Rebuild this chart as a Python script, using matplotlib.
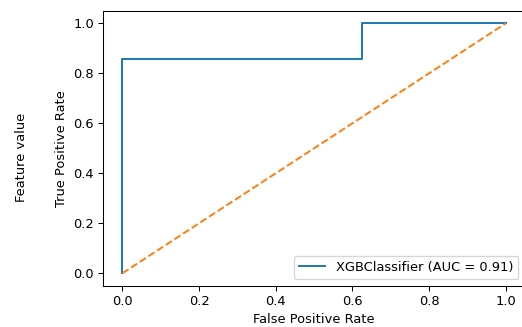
import matplotlib
matplotlib.use("Agg")
import matplotlib.pyplot as plt

fpr = [0.0, 0.0, 0.625, 0.625, 1.0]
tpr = [0.0, 0.857, 0.857, 1.0, 1.0]
chance = [0.0, 1.0]
label = "XGBClassifier (AUC = 0.91)"

dpi = 93.6
fig = plt.figure(figsize=(522 / dpi, 327 / dpi), dpi=dpi)
W, H = 522.0, 327.0
left, right, top, bottom = 103.3, 525.0, 10.8, 285.7
ax = fig.add_axes([left / W, 1 - bottom / H, (right - left) / W, (bottom - top) / H])
ax.plot(fpr, tpr, color="#1f77b4", label=label)
ax.plot(chance, chance, color="#ff7f0e", ls="--")
ax.set_xlim(-0.05, 1.05)
ax.set_ylim(-0.05, 1.05)
ax.set_xticks([0, 0.2, 0.4, 0.6, 0.8, 1.0])
ax.set_yticks([0, 0.2, 0.4, 0.6, 0.8, 1.0])
ax.set_xlabel("False Positive Rate")
ax.set_ylabel("True Positive Rate")
ax.legend(loc="lower right")
fig.text(21.7 / W, 0.52, "Feature value", rotation=90, ha="center", va="center")
fig.savefig("out.png", dpi=dpi)
